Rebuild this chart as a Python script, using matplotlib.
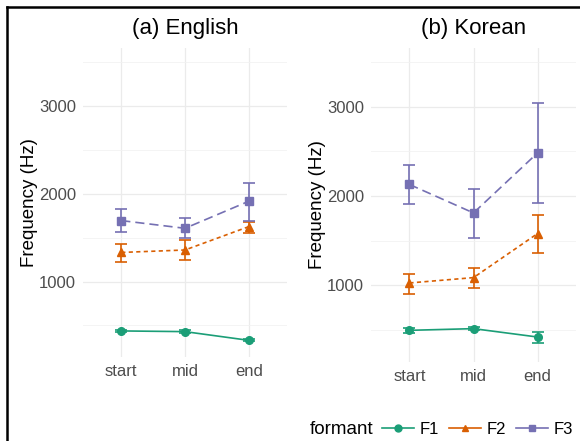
import matplotlib
matplotlib.use("Agg")
import matplotlib.pyplot as plt
from matplotlib.lines import Line2D

plt.rcParams['font.family'] = ['Liberation Sans', 'DejaVu Sans']

# data
positions = ["start", "mid", "end"]
formants = ["F1", "F2", "F3"]

eng_mean = {"F1": [437, 429, 330], "F2": [1331, 1359, 1625], "F3": [1694, 1606, 1914]}
eng_lo = {"F1": [422, 414, 318], "F2": [1217, 1248, 1553], "F3": [1568, 1496, 1694]}
eng_hi = {"F1": [452, 444, 342], "F2": [1427, 1473, 1674], "F3": [1827, 1720, 2124]}

kor_mean = {"F1": [495, 514, 420], "F2": [1026, 1086, 1580], "F3": [2130, 1811, 2484]}
kor_lo = {"F1": [465, 500, 357], "F2": [907, 970, 1362], "F3": [1909, 1535, 1927]}
kor_hi = {"F1": [525, 528, 476], "F2": [1131, 1198, 1785], "F3": [2354, 2084, 3038]}

colors = {"F1": "#1B9E77", "F2": "#D95F02", "F3": "#7570B3"}
markers = {"F1": "o", "F2": "^", "F3": "s"}
dashes = {"F1": None, "F2": (2.5, 2), "F3": (5.5, 3)}

W, H = 580, 441
fig = plt.figure(figsize=(W / 100, H / 100), dpi=100)

def px_axes(x0, x1, ytop, ybot):
    return fig.add_axes([x0 / W, 1 - ybot / H, (x1 - x0) / W, (ybot - ytop) / H])

def panel(ax, title, mean, lo, hi):
    xs = list(range(len(positions)))
    for f in formants:
        yerr = [[m - l for m, l in zip(mean[f], lo[f])], [h - m for m, h in zip(mean[f], hi[f])]]
        ax.errorbar(xs, mean[f], yerr=yerr, fmt="none", ecolor=colors[f], elinewidth=1.2,
                    capsize=4.5, capthick=1.2, zorder=3)
        ln, = ax.plot(xs, mean[f], color=colors[f], lw=1.2, marker=markers[f], markersize=5.5,
                      zorder=4)
        if dashes[f] is not None:
            ln.set_dashes(dashes[f])
    ax.set_xlim(-0.6, 2.6)
    ax.set_ylim(140, 3660)
    ax.set_xticks(xs)
    ax.set_xticklabels(positions)
    ax.set_yticks([1000, 2000, 3000])
    ax.set_yticks([500, 1500, 2500, 3500], minor=True)
    ax.grid(True, which="major", color="#EBEBEB", lw=0.9)
    ax.grid(True, which="minor", axis="y", color="#F2F2F2", lw=0.6)
    ax.set_axisbelow(True)
    for s in ax.spines.values():
        s.set_visible(False)
    ax.tick_params(which="both", length=0, labelsize=12, labelcolor="#4D4D4D", pad=5)
    ax.set_ylabel("Frequency (Hz)", fontsize=13.5, labelpad=1)
    ax.set_title(title, fontsize=16, pad=10)

ax1 = px_axes(83, 287, 48, 357)
panel(ax1, "(a) English", eng_mean, eng_lo, eng_hi)
ax2 = px_axes(371, 576, 48, 362)
panel(ax2, "(b) Korean", kor_mean, kor_lo, kor_hi)

# legend at bottom
fig.text(310 / W, 1 - 429 / H, "formant", fontsize=13.5, ha="left", va="center")
handles = [Line2D([], [], color=colors[f], marker=markers[f], markersize=5, lw=1.2) for f in formants]
fig.legend(handles, formants, loc="center left", bbox_to_anchor=(382 / W, 1 - 429 / H),
           ncol=3, frameon=False, fontsize=12, handlelength=1.9, handletextpad=0.35,
           columnspacing=0.6, borderpad=0, borderaxespad=0)

# frame lines
fig.add_artist(Line2D([7 / W, 7 / W], [0, 1 - 7 / H], transform=fig.transFigure, color="black", lw=1.8))
fig.add_artist(Line2D([7 / W, 1], [1 - 7 / H, 1 - 7 / H], transform=fig.transFigure, color="black", lw=1.8))

fig.savefig("out.png", dpi=100, facecolor="white")
